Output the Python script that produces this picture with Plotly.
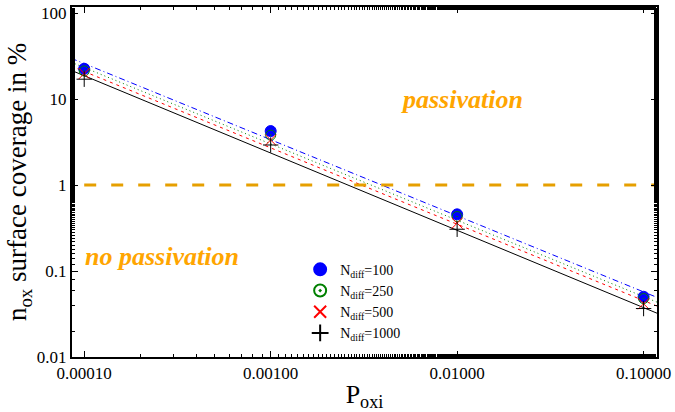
import numpy as np
import plotly.graph_objects as go

# ---------------- data ----------------
p_oxi = [1e-4, 1e-3, 1e-2, 1e-1]
series_names = ["N<sub>diff</sub>=100", "N<sub>diff</sub>=250",
                "N<sub>diff</sub>=500", "N<sub>diff</sub>=1000"]
cov_100 = [22.5, 4.24, 0.456, 0.0502]
cov_250 = [21.2, 3.80, 0.430, 0.0478]
cov_500 = [19.8, 3.34, 0.360, 0.0416]
cov_1000 = [17.0, 2.92, 0.306, 0.0366]

# power-law fits  n = 10**log_a * P**b
fit_log_a = [-2.128, -2.186, -2.232, -2.325]
fit_b = [-0.885, -0.888, -0.888, -0.899]
fit_x = [8.5e-5, 0.12]

threshold = 1.0
threshold_x = [1e-4, 0.118]

x_ticks = [1e-4, 1e-3, 1e-2, 1e-1]
x_ticklabels = ["0.00010", "0.00100", "0.01000", "0.10000"]
y_ticks = [0.01, 0.1, 1, 10, 100]
y_ticklabels = ["0.01", "0.1", "1", "10", "100"]

# ---------------- style ----------------
colors = ["#0000ff", "#008000", "#ff0000", "#000000"]
line_dash = ["6px,3px,1px,3px", "1px,3px", "3px,4px", "solid"]
symbols = ["circle", "circle-open-dot", "x-thin-open", "cross-thin-open"]
sizes = [11, 10, 11, 11]
FONT = "Liberation Serif"
ORANGE = "#ffa500"

all_cov = [cov_100, cov_250, cov_500, cov_1000]

fig = go.Figure()

# fit lines
for i in range(4):
    xs = np.array(fit_x)
    ys = 10 ** fit_log_a[i] * xs ** fit_b[i]
    fig.add_trace(go.Scatter(x=xs, y=ys, mode="lines", showlegend=False,
                             line=dict(color=colors[i], width=1, dash=line_dash[i]),
                             hoverinfo="skip"))

# threshold line
fig.add_trace(go.Scatter(x=threshold_x, y=[threshold, threshold], mode="lines",
                         showlegend=False,
                         line=dict(color="#e69f00", width=3, dash="12px,15px")))

# data points
for i in range(4):
    fig.add_trace(go.Scatter(x=p_oxi, y=all_cov[i], mode="markers",
                             name=series_names[i],
                             marker=dict(symbol=symbols[i], size=sizes[i],
                                         color=colors[i],
                                         line=dict(color=colors[i], width=1))))

fig.add_annotation(x=-1.975, y=1.0, xref="x", yref="y",
                   text="<b><i>passivation</i></b>", showarrow=False,
                   xanchor="center", yanchor="middle",
                   font=dict(family=FONT, size=26, color=ORANGE))
fig.add_annotation(x=-3.582, y=-0.837, xref="x", yref="y",
                   text="<b><i>no passivation</i></b>", showarrow=False,
                   xanchor="center", yanchor="middle",
                   font=dict(family=FONT, size=26, color=ORANGE))

axis_common = dict(showline=True, linecolor="black", linewidth=2, mirror="ticks",
                   ticks="inside", ticklen=6, tickcolor="black", tickwidth=1,
                   showgrid=False, zeroline=False, ticklabeloverflow="allow",
                   tickfont=dict(family=FONT, size=17, color="black"),
                   minor=dict(ticks="inside", ticklen=3, tickcolor="black",
                              showgrid=False))

fig.update_xaxes(type="log", range=[np.log10(8.6e-5), np.log10(0.118)],
                 tickvals=x_ticks, ticktext=x_ticklabels,
                 title=dict(text="P<sub>oxi</sub>", font=dict(family=FONT, size=26, color="black"),
                            standoff=2),
                 **axis_common)
fig.update_yaxes(type="log", range=[-2, 2.07],
                 tickvals=y_ticks, ticktext=y_ticklabels,
                 title=dict(text="n<sub>ox</sub> surface coverage in %",
                            font=dict(family=FONT, size=27, color="black"), standoff=2),
                 **axis_common)

fig.update_layout(width=675, height=412, margin=dict(l=72, r=17, t=4, b=55),
                  plot_bgcolor="white", paper_bgcolor="white",
                  legend=dict(x=0.39, y=0.295, xanchor="left", yanchor="top",
                              bgcolor="rgba(0,0,0,0)",
                              font=dict(family=FONT, size=14, color="black"),
                              tracegroupgap=0, itemsizing="constant"))

fig.write_html("out.html")
